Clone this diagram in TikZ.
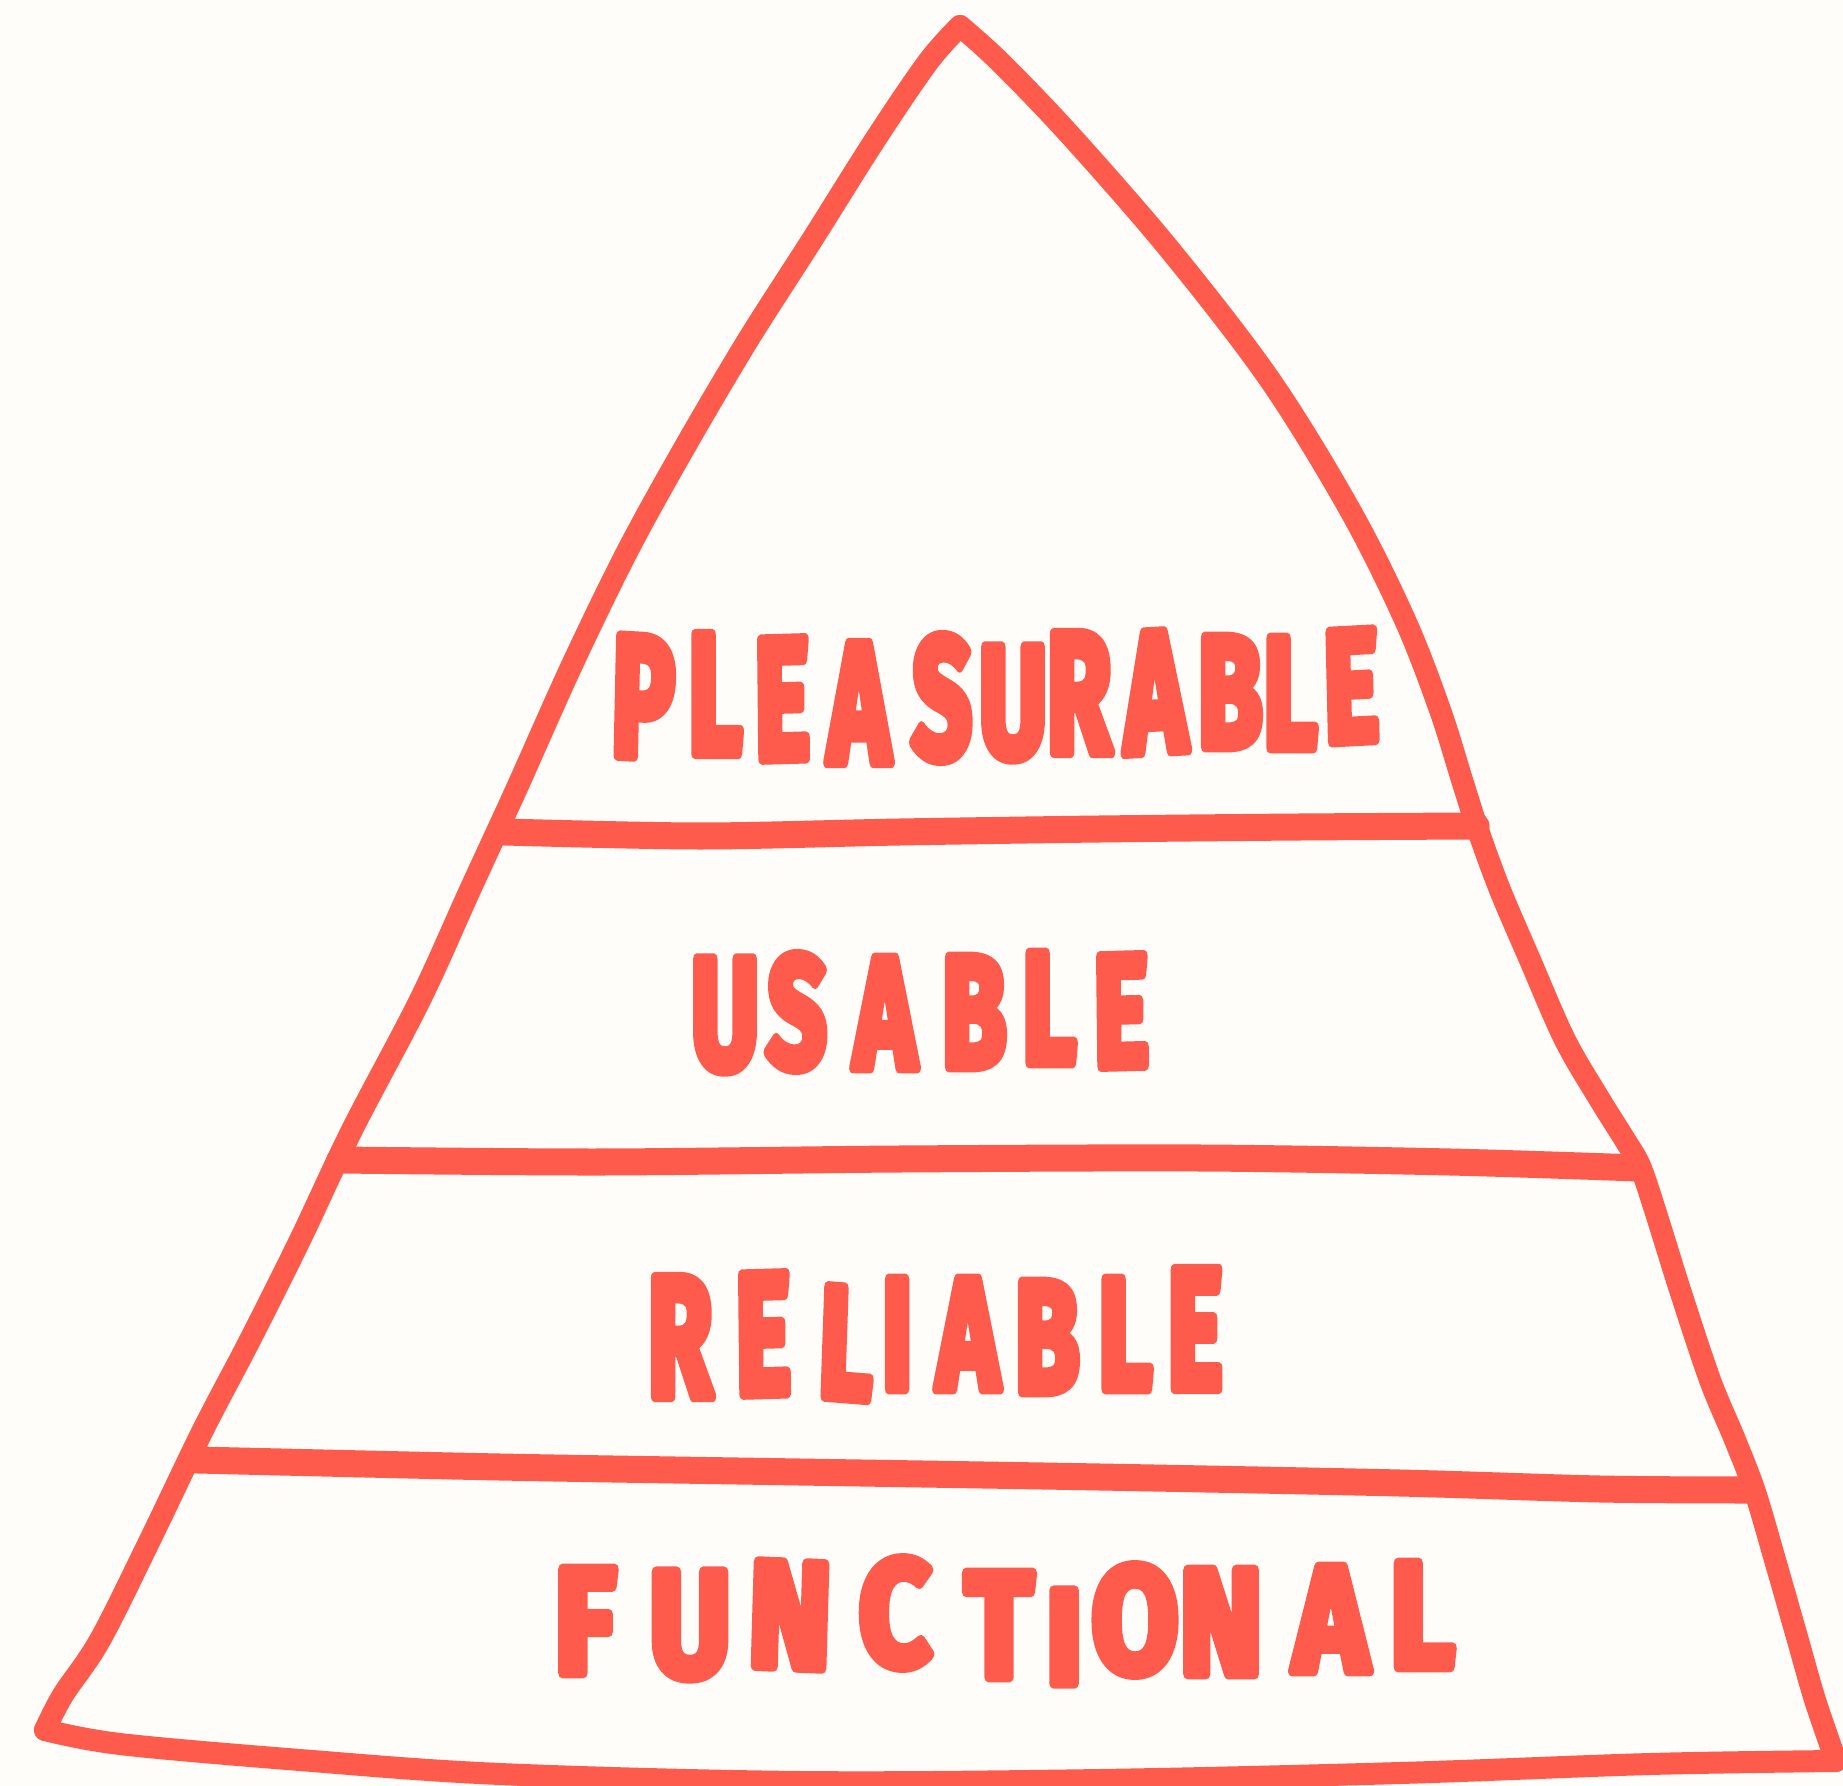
\documentclass[tikz,border=0pt]{standalone}
\usepackage{fontspec}
\newfontfamily\tierfont{Fira Sans Bold}[FakeBold=7]
\definecolor{coral}{RGB}{255,91,77}
\definecolor{paper}{RGB}{255,253,250}
\begin{document}
\begin{tikzpicture}[x=0.01cm,y=-0.01cm,line join=round,line cap=round,
  side/.style={draw=coral,line width=0.22cm},
  divider/.style={draw=coral,line width=0.27cm},
  glyph/.style={text=coral,font=\tierfont\fontsize{45}{45}\selectfont,
    inner sep=0pt,anchor=center,xscale=0.66,transform shape},
  tall/.style={glyph,yscale=1.08},
  wide/.style={glyph,xscale=1.2,yscale=0.95}]
\fill[paper] (0,0) rectangle (1843,1786);
\useasboundingbox (0,0) rectangle (1843,1786);

% corners of the pyramid
\coordinate (apex) at (960,26);
\coordinate (bl) at (45,1730);
\coordinate (br) at (1836,1761);

% left flank
\draw[side] plot[smooth,tension=0.55] coordinates {(apex) (928,62) (875,140) (812,240)
  (748,340) (686,445) (628,550) (572,665) (516,790) (470,890) (420,1000) (352,1130)
  (300,1240) (250,1340) (203,1430) (150,1540) (100,1640) (63,1695) (bl)};
% base
\draw[side] plot[smooth,tension=0.55] coordinates {(bl) (120,1744) (300,1760) (500,1774)
  (800,1782) (1100,1780) (1400,1773) (1650,1764) (br)};
% right flank
\draw[side] plot[smooth,tension=0.55] coordinates {(apex) (1000,62) (1070,135) (1170,250)
  (1270,380) (1350,510) (1405,620) (1440,710) (1462,780) (1478,830) (1500,890) (1530,960)
  (1565,1040) (1600,1100) (1625,1140) (1640,1166) (1655,1210) (1680,1290) (1710,1380)
  (1735,1440) (1755,1492) (1775,1560) (1797,1637) (1815,1700) (br)};

% tier dividers
\draw[divider] plot[smooth,tension=0.5] coordinates {(505,832) (700,836) (900,832) (1100,829) (1300,827) (1476,826)};
\draw[divider] plot[smooth,tension=0.5] coordinates {(340,1160) (600,1162) (900,1159) (1200,1158) (1450,1162) (1638,1168)};
\draw[divider] plot[smooth,tension=0.5] coordinates {(198,1460) (500,1467) (800,1472) (1100,1477) (1400,1483) (1600,1489) (1750,1490)};

% top tier
\node[tall,rotate=-2] (p1) at (643,697) {P};
\node[tall] (p2) at (715,694) {L};
\node[tall,rotate=1] (p3) at (782,699) {E};
\node[tall] (p4) at (859,703) {A};
\node[tall,rotate=-1] (p5) at (942,698) {S};
\node[glyph] (p6) at (1013,703) {U};
\node[tall] (p7) at (1079,693) {R};
\node[tall,rotate=2] (p8) at (1155,692) {A};
\node[glyph] (p9) at (1230,692) {B};
\node[glyph] (p10) at (1290,693) {L};
\node[glyph,rotate=2] (p11) at (1351,686) {E};

% second tier
\node[glyph] (u1) at (725,1015) {U};
\node[glyph,rotate=-2] (u2) at (797,1012) {S};
\node[glyph] (u3) at (885,1013) {A};
\node[glyph] (u4) at (974,1012) {B};
\node[glyph] (u5) at (1049,1008) {L};
\node[glyph,rotate=1] (u6) at (1121,1011) {E};

% third tier
\node[tall] (r1) at (680,1337) {R};
\node[tall,rotate=1] (r2) at (763,1334) {E};
\node[glyph,rotate=-3] (r3) at (846,1343) {L};
\node[glyph] (r4) at (897,1334) {I};
\node[glyph] (r5) at (968,1334) {A};
\node[glyph] (r6) at (1047,1337) {B};
\node[glyph] (r7) at (1125,1334) {L};
\node[tall] (r8) at (1195,1329) {E};

% bottom tier
\node[wide] (f1) at (585,1621) {F};
\node[wide] (f2) at (690,1625) {U};
\node[wide,rotate=-2] (f3) at (790,1615) {N};
\node[wide] (f4) at (895,1613) {C};
\node[wide] (f5) at (999,1625) {T};
\node[wide,yscale=0.9] (f6) at (1064,1637) {I};
\node[wide] (f7) at (1135,1620) {O};
\node[wide] (f8) at (1221,1622) {N};
\node[wide] (f9) at (1331,1619) {A};
\node[wide] (f10) at (1422,1615) {L};
\end{tikzpicture}
\end{document}
